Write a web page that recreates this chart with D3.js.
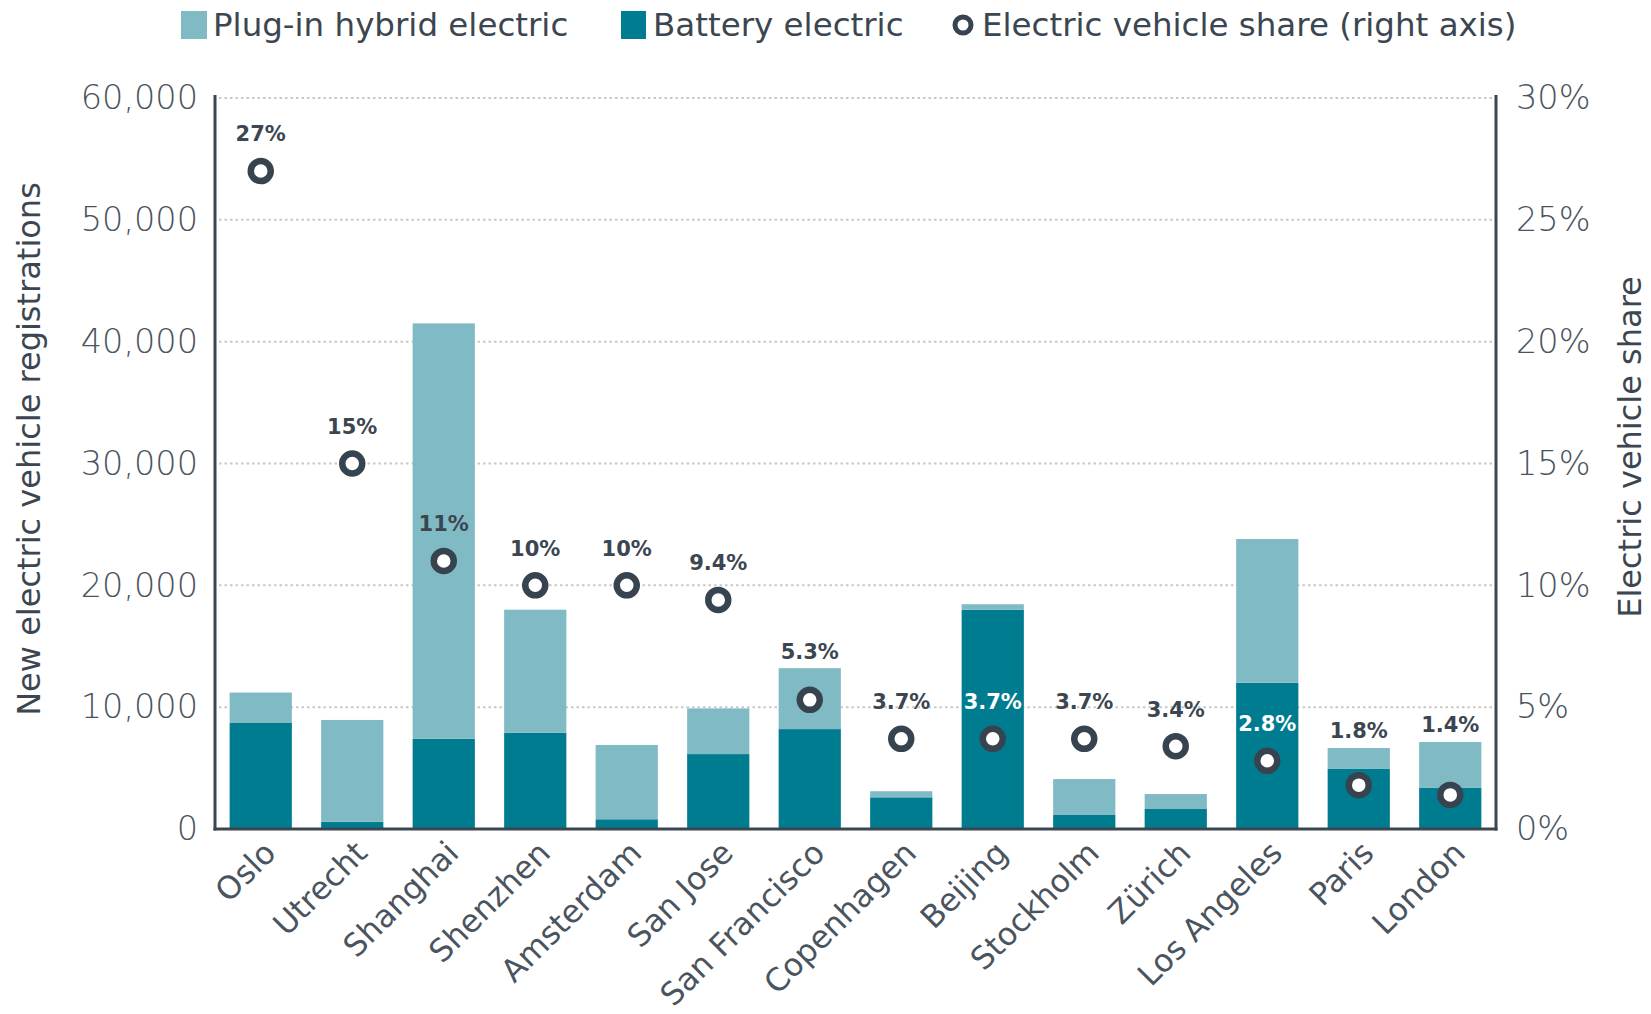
<!DOCTYPE html>
<html>
<head>
<meta charset="utf-8">
<script src="https://cdn.jsdelivr.net/npm/d3@7"></script>
<style>
  body { margin: 0; background: #fff; }
  text { font-family: "DejaVu Sans", sans-serif; }
</style>
</head>
<body>
<div id="chart"></div>
<script>
const cities = ["Oslo", "Utrecht", "Shanghai", "Shenzhen", "Amsterdam", "San Jose", "San Francisco",
  "Copenhagen", "Beijing", "Stockholm", "Zürich", "Los Angeles", "Paris", "London"];
const battery = [8700, 600, 7400, 7900, 800, 6150, 8200, 2600, 18000, 1150, 1640, 12000, 4930, 3370];
const plugin = [2500, 8350, 34100, 10100, 6100, 3750, 5000, 500, 450, 2950, 1230, 11800, 1720, 3770];
const share = [27, 15, 11, 10, 10, 9.4, 5.3, 3.7, 3.7, 3.7, 3.4, 2.8, 1.8, 1.4];
const leftTicks = [0, 10000, 20000, 30000, 40000, 50000, 60000];
const rightTicks = [0, 5, 10, 15, 20, 25, 30];

const W = 1651, H = 1014;
const x0 = 215, x1 = 1496, yTop = 98, yBot = 829;
const dark = "#3b4651", light = "#80bbc5", teal = "#007c91";

const rows = cities.map((c, i) => ({ city: c, battery: battery[i], plugin: plugin[i], share: share[i] }));

const svg = d3.select("#chart").append("svg").attr("width", W).attr("height", H);

const x = d3.scaleBand().domain(cities).range([x0, x1]).paddingInner(0.32).paddingOuter(0.16);
const y = d3.scaleLinear().domain([0, 60000]).range([yBot, yTop]);
const y2 = d3.scaleLinear().domain([0, 30]).range([yBot, yTop]);

// dotted grid
svg.append("g")
  .selectAll("line")
  .data(leftTicks.filter(d => d > 0))
  .enter().append("line")
  .attr("x1", x0 + 4).attr("x2", x1 - 4)
  .attr("y1", d => y(d)).attr("y2", d => y(d))
  .attr("stroke", "#c8c8c8")
  .attr("stroke-width", 2)
  .attr("stroke-dasharray", "2.5,3");

// stacked bars
const stack = d3.stack().keys(["battery", "plugin"]);
const series = stack(rows);
const colors = { battery: teal, plugin: light };

svg.append("g")
  .selectAll("g")
  .data(series)
  .enter().append("g")
  .attr("fill", d => colors[d.key])
  .selectAll("rect")
  .data(d => d)
  .enter().append("rect")
  .attr("x", d => x(d.data.city))
  .attr("width", x.bandwidth())
  .attr("y", d => y(d[1]))
  .attr("height", d => y(d[0]) - y(d[1]));

// axes
const axisLeft = d3.axisLeft(y).tickValues(leftTicks).tickSize(0).tickPadding(17).tickFormat(d3.format(","));
const axisRight = d3.axisRight(y2).tickValues(rightTicks).tickSize(0).tickPadding(20).tickFormat(d => d + "%");

const gl = svg.append("g").attr("transform", `translate(${x0},0)`).call(axisLeft);
const gr = svg.append("g").attr("transform", `translate(${x1},0)`).call(axisRight);
[gl, gr].forEach(g => {
  g.select(".domain").remove();
  g.selectAll("text")
    .attr("font-family", "DejaVu Sans")
    .attr("font-size", 33.5)
    .attr("font-weight", 300)
    .attr("fill", "#4a545e");
});

svg.append("line").attr("x1", x0).attr("x2", x0).attr("y1", 95).attr("y2", yBot + 1.5)
  .attr("stroke", dark).attr("stroke-width", 3);
svg.append("line").attr("x1", x1).attr("x2", x1).attr("y1", 95).attr("y2", yBot + 1.5)
  .attr("stroke", dark).attr("stroke-width", 3);
svg.append("line").attr("x1", x0 - 1.5).attr("x2", x1 + 1.5).attr("y1", yBot).attr("y2", yBot)
  .attr("stroke", dark).attr("stroke-width", 3);

// x labels
svg.append("g")
  .selectAll("text")
  .data(cities)
  .enter().append("text")
  .attr("transform", d => `translate(${x(d) + x.bandwidth() / 2 + 9},${yBot + 18}) rotate(-45)`)
  .attr("text-anchor", "end")
  .attr("dy", "0.35em")
  .attr("font-size", 31.5)
  .attr("fill", "#4a545e")
  .text(d => d);

// share dots
svg.append("g")
  .selectAll("circle")
  .data(rows)
  .enter().append("circle")
  .attr("cx", d => x(d.city) + x.bandwidth() / 2)
  .attr("cy", d => y2(d.share))
  .attr("r", 10)
  .attr("fill", "#fff")
  .attr("stroke", "#37444f")
  .attr("stroke-width", 6.5);

// share labels
const labelY = d => {
  const cy = y2(d.share) - 37;
  const top = y(d.battery + d.plugin), mid = y(d.battery);
  const overlap = cy + 10 > top && cy - 10 < mid;
  if (overlap && mid - top < 100) return top - 17;
  return cy;
};
svg.append("g")
  .selectAll("text")
  .data(rows)
  .enter().append("text")
  .attr("x", d => x(d.city) + x.bandwidth() / 2)
  .attr("y", d => labelY(d))
  .attr("dy", "0.35em")
  .attr("text-anchor", "middle")
  .attr("font-size", 21)
  .attr("font-weight", "bold")
  .attr("fill", d => labelY(d) - 8 > y(d.battery) ? "#fff" : "#3c4650")
  .text(d => d.share + "%");

// axis titles
svg.append("text")
  .attr("transform", "translate(29,449) rotate(-90)")
  .attr("text-anchor", "middle").attr("dy", "0.35em")
  .attr("font-size", 32).attr("fill", "#3c4650")
  .text("New electric vehicle registrations");
svg.append("text")
  .attr("transform", "translate(1630,447) rotate(-90)")
  .attr("text-anchor", "middle").attr("dy", "0.35em")
  .attr("font-size", 32).attr("fill", "#3c4650")
  .text("Electric vehicle share");

// legend
const legend = svg.append("g");
legend.append("rect").attr("x", 181).attr("y", 11).attr("width", 26).attr("height", 28).attr("fill", light);
legend.append("text").attr("x", 213).attr("y", 25).attr("dy", "0.35em").attr("font-size", 32.5)
  .attr("fill", "#3c4650").text("Plug-in hybrid electric");
legend.append("rect").attr("x", 621).attr("y", 11).attr("width", 25).attr("height", 28).attr("fill", teal);
legend.append("text").attr("x", 653).attr("y", 25).attr("dy", "0.35em").attr("font-size", 32.5)
  .attr("fill", "#3c4650").text("Battery electric");
legend.append("circle").attr("cx", 963).attr("cy", 25).attr("r", 8).attr("fill", "#fff")
  .attr("stroke", "#37444f").attr("stroke-width", 5);
legend.append("text").attr("x", 982).attr("y", 25).attr("dy", "0.35em").attr("font-size", 32.5)
  .attr("fill", "#3c4650").text("Electric vehicle share (right axis)");
</script>
</body>
</html>
